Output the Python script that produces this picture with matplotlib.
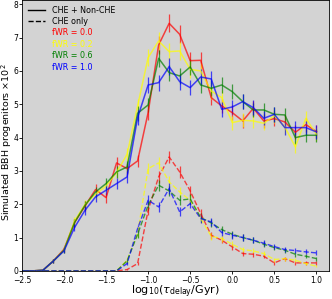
import numpy as np
import matplotlib
matplotlib.use("Agg")
import matplotlib.pyplot as plt
from matplotlib.lines import Line2D

# ── Daten (Werte x10^2) ─────────────────────────────────────────────────────

log_tdelay = np.arange(-2.5, 1.0001, 0.125)

fwr_labels = ["fWR = 0.0", "fWR = 0.2", "fWR = 0.6", "fWR = 1.0"]
fwr_colors = ["red", "yellow", "green", "blue"]

# CHE + Non-CHE (durchgezogen)
all_fwr00 = [0, 0, 0.02, 0.3, 0.65, 1.45, 1.95, 2.44, 2.2, 3.24, 3.07, 3.3, 4.75, 6.78,
             7.43, 7.1, 6.31, 6.32, 5.2, 4.95, 4.75, 4.5, 4.88, 4.5, 4.57, 4.47, 4.16, 4.39, 4.18]
all_fwr02 = [0, 0, 0.02, 0.3, 0.62, 1.5, 2.0, 2.3, 2.55, 2.95, 3.5, 4.95, 6.4, 6.9,
             6.58, 6.6, 6.05, 6.0, 5.4, 5.2, 4.45, 4.52, 4.5, 4.43, 4.66, 4.32, 3.72, 4.58, 4.1]
all_fwr06 = [0, 0, 0.02, 0.3, 0.62, 1.45, 1.97, 2.37, 2.62, 2.97, 3.12, 4.73, 4.98, 6.38,
             5.95, 5.85, 6.12, 5.58, 5.48, 5.58, 5.38, 5.08, 4.83, 4.83, 4.7, 4.68, 4.0, 4.07, 4.07]
all_fwr10 = [0, 0, 0.02, 0.3, 0.6, 1.3, 1.82, 2.22, 2.42, 2.62, 2.82, 4.6, 5.58, 5.65,
             6.13, 5.68, 5.5, 5.82, 5.76, 4.85, 4.92, 5.08, 4.9, 4.58, 4.7, 4.3, 4.3, 4.3, 4.17]

# CHE only (gestrichelt)
che_fwr00 = [0, 0, 0, 0, 0, 0, 0, 0, 0, 0, 0.04, 0.22, 1.82, 2.82,
             3.42, 2.97, 2.4, 1.72, 1.07, 0.92, 0.72, 0.52, 0.5, 0.44, 0.24, 0.37, 0.24, 0.24, 0.24]
che_fwr02 = [0, 0, 0, 0, 0, 0, 0, 0, 0, 0, 0.32, 1.12, 3.07, 3.24,
             2.67, 2.37, 2.12, 1.57, 1.04, 0.97, 0.8, 0.64, 0.6, 0.52, 0.34, 0.37, 0.32, 0.22, 0.14]
che_fwr06 = [0, 0, 0, 0, 0, 0, 0, 0, 0, 0, 0.3, 1.1, 1.97, 2.57,
             2.4, 2.12, 2.16, 1.6, 1.44, 1.24, 1.1, 1.0, 0.92, 0.8, 0.7, 0.62, 0.5, 0.44, 0.37]
che_fwr10 = [0, 0, 0, 0, 0, 0, 0, 0, 0, 0, 0.22, 1.27, 2.12, 1.92,
             2.47, 1.77, 2.02, 1.57, 1.47, 1.15, 1.07, 1.0, 0.92, 0.83, 0.73, 0.64, 0.61, 0.57, 0.54]

all_series = [all_fwr00, all_fwr02, all_fwr06, all_fwr10]
che_series = [che_fwr00, che_fwr02, che_fwr06, che_fwr10]


def poisson_err(vals):
    # Poisson-Fehler der Zählung N = v * 100, zurück in Einheiten von 10^2
    n = np.asarray(vals) * 100.0
    return np.sqrt(n) / 100.0


# ── Plot ────────────────────────────────────────────────────────────────────

fig = plt.figure(figsize=(3.32, 2.99), dpi=100)
ax = fig.add_axes([0.066, 0.094, 0.925, 0.906])
ax.set_facecolor("lightgray")

for vals, col in zip(all_series, fwr_colors):
    ax.errorbar(log_tdelay, vals, yerr=poisson_err(vals), color=col, alpha=0.7,
                linewidth=1.1, elinewidth=0.9, capsize=0)
for vals, col in zip(che_series, fwr_colors):
    ax.errorbar(log_tdelay, vals, yerr=poisson_err(vals), color=col, alpha=0.7,
                linewidth=1.0, linestyle="--", elinewidth=0.9, capsize=0)

ax.set_xlim(-2.5, 1.15)
ax.set_ylim(0, 8.13)
ax.set_xticks([-2.5, -2.0, -1.5, -1.0, -0.5, 0.0, 0.5, 1.0])
ax.set_yticks(range(0, 9))
ax.tick_params(labelsize=5.5, length=2, width=0.6, pad=0.8)
ax.tick_params(axis="x", pad=1.4)
for spine in ax.spines.values():
    spine.set_linewidth(0.6)

ax.set_xlabel(r"log$_{10}$($\tau_{\rm delay}$/Gyr)", fontsize=8)
ax.xaxis.set_label_coords(0.5, -0.047)
ax.set_ylabel(r"Simulated BBH progenitors $\times 10^2$", fontsize=6.8)
ax.yaxis.set_label_coords(-0.026, 0.475)

handles = [Line2D([], [], color="black", linewidth=1.0),
           Line2D([], [], color="black", linewidth=1.0, linestyle="--")]
labels = ["CHE + Non-CHE", "CHE only"]
for lab in fwr_labels:
    handles.append(Line2D([], [], linestyle="none"))
    labels.append(lab)
leg = ax.legend(handles, labels, loc="upper left", frameon=False, fontsize=5.8,
                handlelength=2.2, borderaxespad=0.3, labelspacing=0.3)
for txt, col in zip(leg.get_texts()[2:], fwr_colors):
    txt.set_color(col)

fig.savefig("out.png", dpi=100)
